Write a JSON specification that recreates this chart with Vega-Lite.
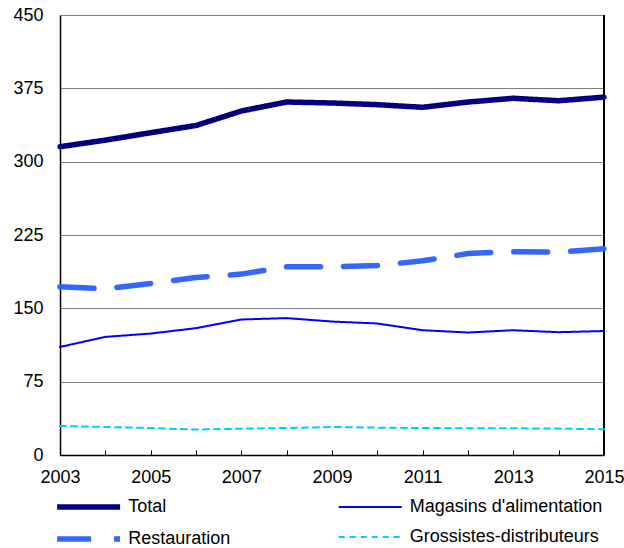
{
  "$schema": "https://vega.github.io/schema/vega-lite/v6.json",
  "autosize": {"type": "none"},
  "padding": {"left": 60, "top": 15, "right": 20, "bottom": 93},
  "width": 544,
  "height": 440,
  "background": "white",
  "config": {
    "view": {"stroke": null},
    "font": "Liberation Sans",
    "axis": {"labelFont": "Liberation Sans", "labelFontSize": 18, "labelColor": "#000", "domainColor": "#000", "tickColor": "#000"},
    "legend": {"labelFont": "Liberation Sans", "labelFontSize": 18, "labelColor": "#000"}
  },
  "data": {"values": [
    {"year": 2003, "serie": "Total", "value": 315.3},
    {"year": 2004, "serie": "Total", "value": 322},
    {"year": 2005, "serie": "Total", "value": 329.6},
    {"year": 2006, "serie": "Total", "value": 337},
    {"year": 2007, "serie": "Total", "value": 351.8},
    {"year": 2008, "serie": "Total", "value": 361},
    {"year": 2009, "serie": "Total", "value": 360},
    {"year": 2010, "serie": "Total", "value": 358.3},
    {"year": 2011, "serie": "Total", "value": 355.6},
    {"year": 2012, "serie": "Total", "value": 361},
    {"year": 2013, "serie": "Total", "value": 364.8},
    {"year": 2014, "serie": "Total", "value": 362.3},
    {"year": 2015, "serie": "Total", "value": 366},
    {"year": 2003, "serie": "Magasins d'alimentation", "value": 110.5},
    {"year": 2004, "serie": "Magasins d'alimentation", "value": 120.8},
    {"year": 2005, "serie": "Magasins d'alimentation", "value": 124.2},
    {"year": 2006, "serie": "Magasins d'alimentation", "value": 129.7},
    {"year": 2007, "serie": "Magasins d'alimentation", "value": 138.6},
    {"year": 2008, "serie": "Magasins d'alimentation", "value": 140},
    {"year": 2009, "serie": "Magasins d'alimentation", "value": 136.5},
    {"year": 2010, "serie": "Magasins d'alimentation", "value": 134.5},
    {"year": 2011, "serie": "Magasins d'alimentation", "value": 127.6},
    {"year": 2012, "serie": "Magasins d'alimentation", "value": 125.3},
    {"year": 2013, "serie": "Magasins d'alimentation", "value": 127.6},
    {"year": 2014, "serie": "Magasins d'alimentation", "value": 125.6},
    {"year": 2015, "serie": "Magasins d'alimentation", "value": 126.8},
    {"year": 2003, "serie": "Restauration", "value": 172},
    {"year": 2004, "serie": "Restauration", "value": 170},
    {"year": 2005, "serie": "Restauration", "value": 175.4},
    {"year": 2006, "serie": "Restauration", "value": 181.5},
    {"year": 2007, "serie": "Restauration", "value": 185},
    {"year": 2008, "serie": "Restauration", "value": 192.5},
    {"year": 2009, "serie": "Restauration", "value": 192.5},
    {"year": 2010, "serie": "Restauration", "value": 193.8},
    {"year": 2011, "serie": "Restauration", "value": 198.6},
    {"year": 2012, "serie": "Restauration", "value": 206},
    {"year": 2013, "serie": "Restauration", "value": 208},
    {"year": 2014, "serie": "Restauration", "value": 207.5},
    {"year": 2015, "serie": "Restauration", "value": 211},
    {"year": 2003, "serie": "Grossistes-distributeurs", "value": 29.7},
    {"year": 2004, "serie": "Grossistes-distributeurs", "value": 28.7},
    {"year": 2005, "serie": "Grossistes-distributeurs", "value": 27.6},
    {"year": 2006, "serie": "Grossistes-distributeurs", "value": 26},
    {"year": 2007, "serie": "Grossistes-distributeurs", "value": 26.9},
    {"year": 2008, "serie": "Grossistes-distributeurs", "value": 27.6},
    {"year": 2009, "serie": "Grossistes-distributeurs", "value": 28.7},
    {"year": 2010, "serie": "Grossistes-distributeurs", "value": 28},
    {"year": 2011, "serie": "Grossistes-distributeurs", "value": 27.6},
    {"year": 2012, "serie": "Grossistes-distributeurs", "value": 27.3},
    {"year": 2013, "serie": "Grossistes-distributeurs", "value": 27.3},
    {"year": 2014, "serie": "Grossistes-distributeurs", "value": 27},
    {"year": 2015, "serie": "Grossistes-distributeurs", "value": 26.3}
  ]},
  "layer": [
    {
      "mark": {"type": "rule", "color": "#000", "strokeWidth": 1},
      "encoding": {"x": {"datum": 2015, "type": "quantitative"}}
    },
    {
      "mark": {"type": "line", "strokeCap": "round", "strokeJoin": "round"},
      "encoding": {
        "x": {
          "field": "year", "type": "quantitative",
          "scale": {"domain": [2003, 2015], "nice": false, "zero": false},
          "axis": {
            "title": null, "grid": false, "format": "d",
            "values": [2003, 2004, 2005, 2006, 2007, 2008, 2009, 2010, 2011, 2012, 2013, 2014, 2015],
            "labelExpr": "datum.value % 2 == 1 ? datum.label : ''",
            "tickSize": -5, "labelPadding": 18, "labelFlush": false, "labelOverlap": false,
            "domainWidth": 1.5
          }
        },
        "y": {
          "field": "value", "type": "quantitative",
          "scale": {"domain": [0, 450], "nice": false},
          "axis": {
            "title": null, "values": [0, 75, 150, 225, 300, 375, 450],
            "ticks": false, "labelPadding": 17, "grid": true, "gridColor": "#808080", "gridWidth": 1,
            "domainWidth": 1.5
          }
        },
        "color": {
          "field": "serie", "type": "nominal",
          "sort": ["Total", "Magasins d'alimentation", "Restauration", "Grossistes-distributeurs"],
          "scale": {
            "domain": ["Total", "Magasins d'alimentation", "Restauration", "Grossistes-distributeurs"],
            "range": ["#000080", "#0000FF", "#3366FF", "#00CCFF"]
          },
          "legend": {
            "title": null, "orient": "none", "legendX": 17.6, "legendY": 481,
            "direction": "horizontal", "columns": 2, "columnPadding": 103.6, "rowPadding": 10,
            "symbolType": "M-4,0H4", "symbolSize": 248, "labelOffset": 28.6, "padding": 0,
            "labelLimit": 300
          }
        },
        "strokeWidth": {
          "field": "serie", "type": "nominal",
          "sort": ["Total", "Magasins d'alimentation", "Restauration", "Grossistes-distributeurs"],
          "scale": {
            "type": "ordinal",
            "domain": ["Total", "Magasins d'alimentation", "Restauration", "Grossistes-distributeurs"],
            "range": [5.5, 2, 5.5, 2]
          }
        },
        "strokeDash": {
          "field": "serie", "type": "nominal",
          "sort": ["Total", "Magasins d'alimentation", "Restauration", "Grossistes-distributeurs"],
          "scale": {
            "domain": ["Total", "Magasins d'alimentation", "Restauration", "Grossistes-distributeurs"],
            "range": [[1, 0], [1, 0], [34, 23], [6, 5]]
          }
        }
      }
    }
  ]
}
